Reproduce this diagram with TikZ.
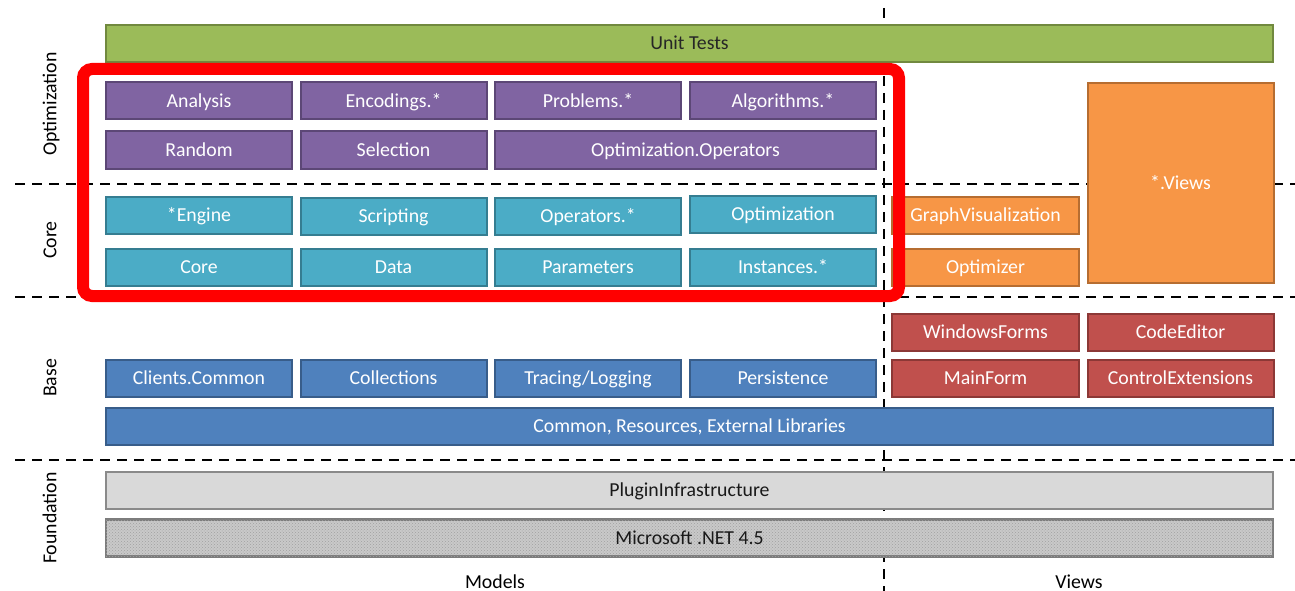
\documentclass[tikz,border=0pt]{standalone}
\usepackage{fontspec}
\setmainfont{Carlito}
\usetikzlibrary{patterns}
\definecolor{gfill}{HTML}{9BBB59}\definecolor{gline}{HTML}{71893F}
\definecolor{pfill}{HTML}{8064A2}\definecolor{pline}{HTML}{5C4776}
\definecolor{tfill}{HTML}{4BACC6}\definecolor{tline}{HTML}{357D91}
\definecolor{ofill}{HTML}{F79646}\definecolor{oline}{HTML}{B66D31}
\definecolor{rfill}{HTML}{C0504D}\definecolor{rline}{HTML}{8C3836}
\definecolor{bfill}{HTML}{4F81BD}\definecolor{bline}{HTML}{385D8A}
\definecolor{grfill}{HTML}{D9D9D9}\definecolor{grline}{HTML}{8A8A8A}
\definecolor{netfill}{HTML}{C9C9C9}\definecolor{netdots}{HTML}{A0A0A0}
\definecolor{hilite}{HTML}{FF0000}
\tikzset{
  base/.style={draw, line width=2pt, inner sep=0pt, minimum height=37pt,
    text height=12.6pt, text depth=0pt, font=\fontsize{19.8pt}{22pt}\selectfont},
  cw/.style={minimum width=186pt},
  gbox/.style={base, fill=gfill, draw=gline, text=black!85},
  pbox/.style={base, cw, fill=pfill, draw=pline, text=white},
  tbox/.style={base, cw, fill=tfill, draw=tline, text=white},
  obox/.style={base, cw, fill=ofill, draw=oline, text=white},
  rbox/.style={base, cw, fill=rfill, draw=rline, text=white},
  bbox/.style={base, cw, fill=bfill, draw=bline, text=white},
  grbox/.style={base, fill=grfill, draw=grline, text=black!90},
  sep/.style={line width=2.6pt, dash pattern=on 10pt off 7pt},
  lbl/.style={font=\fontsize{19.8pt}{22pt}\selectfont, text=black, inner sep=0pt,
    text height=12.6pt, text depth=0pt},
}
\begin{document}
\begin{tikzpicture}[x=1pt,y=-1pt]
\useasboundingbox (0,0) rectangle (1295,591);
% separators
\coordinate (h1a) at (15,184); \coordinate (h1b) at (1295,184);
\coordinate (h2a) at (15,297); \coordinate (h2b) at (1295,297);
\coordinate (h3a) at (15,460); \coordinate (h3b) at (1295,460);
\coordinate (va) at (884,8); \coordinate (vb) at (884,591);
\draw[sep] (h1a) -- (h1b);
\draw[sep] (h2a) -- (h2b);
\draw[sep] (h3a) -- (h3b);
\draw[sep] (va) -- (vb);
% Unit tests
\node[gbox, minimum width=1167pt] (unit) at (689.5,43.5) {Unit Tests};
% Optimization
\node[pbox] (ana) at (199,101) {Analysis};
\node[pbox] (enc) at (393.5,101) {Encodings.*};
\node[pbox] (prob) at (588,101) {Problems.*};
\node[pbox] (alg) at (783,101) {Algorithms.*};
\node[pbox] (rnd) at (199,150) {Random};
\node[pbox] (sel) at (393.5,150) {Selection};
\node[pbox, minimum width=381pt] (optop) at (685.5,150) {Optimization.Operators};
% Core
\node[tbox] (eng) at (199,215) {*Engine};
\node[tbox] (scr) at (393.5,216) {Scripting};
\node[tbox] (ops) at (588,216) {Operators.*};
\node[tbox] (opt) at (783,214) {Optimization};
\node[tbox] (core) at (199,267) {Core};
\node[tbox] (data) at (393.5,267) {Data};
\node[tbox] (par) at (588,267) {Parameters};
\node[tbox] (inst) at (783,267) {Instances.*};
% Views (orange)
\node[obox, minimum width=187pt] (gv) at (985.5,215) {GraphVisualization};
\node[obox, minimum width=187pt] (optz) at (985.5,267) {Optimizer};
\node[obox, minimum height=200pt] (views) at (1180.5,183) {*.Views};
% Base views (red)
\node[rbox, minimum width=187pt] (wf) at (985.5,332.5) {WindowsForms};
\node[rbox] (ce) at (1180.5,332.5) {CodeEditor};
\node[rbox, minimum width=187pt] (mf) at (985.5,378.5) {MainForm};
\node[rbox] (cx) at (1180.5,378.5) {ControlExtensions};
% Base (blue)
\node[bbox] (cc) at (199,378.5) {Clients.Common};
\node[bbox] (col) at (393.5,378.5) {Collections};
\node[bbox] (trc) at (588,378.5) {Tracing/Logging};
\node[bbox] (per) at (783,378.5) {Persistence};
\node[bbox, minimum width=1167pt] (common) at (689.5,426.5) {Common, Resources, External Libraries};
% Foundation
\node[grbox, minimum width=1167pt] (plugin) at (689.5,490) {PluginInfrastructure};
\node[grbox, minimum width=1167pt, fill=netfill, draw=grline!90!black, line width=2.5pt,
      postaction={pattern=crosshatch dots, pattern color=netdots}] (net) at (689.5,538) {};
\node[lbl, text=black!90] (nettxt) at (net.center) {Microsoft .NET 4.5};
% highlight
\draw[hilite, line width=12pt, rounded corners=9pt] (83,69) rectangle (899,296);
% labels
\node[lbl, rotate=90] (lopt) at (50,104) {Optimization};
\node[lbl, rotate=90] (lcore) at (50,240) {Core};
\node[lbl, rotate=90] (lbase) at (50,378) {Base};
\node[lbl, rotate=90] (lfound) at (50,518) {Foundation};
\node[lbl] (models) at (495,582) {Models};
\node[lbl] (lviews) at (1079,582) {Views};
\end{tikzpicture}
\end{document}
